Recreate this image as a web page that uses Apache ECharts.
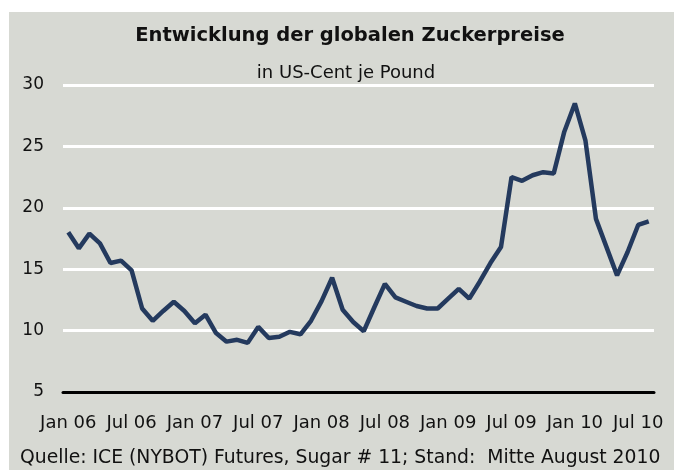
<!DOCTYPE html>
<html>
<head>
<meta charset="utf-8">
<script src="https://cdn.jsdelivr.net/npm/echarts@6/dist/echarts.min.js"></script>
<style>
    html, body {margin: 0; padding: 0; background: #fff;}
    #sugarPrice {width: 674px; height: 470px;}
</style>
</head>
<body>
<div id="sugarPrice"></div>
<script>
// Zuckerpreise Jan 06 - Aug 10, US-Cent je Pound (monatlich)
var monthNames = ['Jan', 'Feb', 'Mar', 'Apr', 'May', 'Jun', 'Jul', 'Aug', 'Sep', 'Oct', 'Nov', 'Dec'];
var years = ['06', '07', '08', '09', '10'];
var lastMonth = 8; // Aug 10
var prices = [
    18.0, 16.7, 17.9, 17.1, 15.5, 15.7, 14.9, 11.8, 10.8, 11.6, 12.35, 11.6,
    10.6, 11.3, 9.8, 9.1, 9.25, 9.0, 10.3, 9.4, 9.5, 9.9, 9.7, 10.8,
    12.4, 14.3, 11.7, 10.7, 9.95, 11.9, 13.8, 12.7, 12.35, 12.0, 11.8, 11.8,
    12.6, 13.4, 12.6, 14.0, 15.5, 16.8, 22.5, 22.2, 22.65, 22.9, 22.8, 26.2,
    28.5, 25.5, 19.1, 16.8, 14.5, 16.4, 18.6, 18.9
];
var yTicks = [5, 30, 5]; // min, max, interval

var months = [];
for (var y = 0; y < years.length; y++) {
    var n = (y === years.length - 1) ? lastMonth : 12;
    for (var m = 0; m < n; m++) {
        months.push(monthNames[m] + ' ' + years[y]);
    }
}

function showSugarPrice() {
    var chart = echarts.init(document.getElementById('sugarPrice'));
    var font = '"DejaVu Sans", sans-serif';
    option = {
        backgroundColor: '#fff',
        animation: false,
        graphic: [{
            type: 'rect',
            z: -10,
            shape: {x: 9, y: 12, width: 665, height: 458},
            style: {fill: '#d7d9d3'}
        }],
        title: [{
            text: 'Entwicklung der globalen Zuckerpreise',
            left: 345,
            textAlign: 'center',
            top: 21,
            textStyle: {color: '#111', fontFamily: font, fontSize: 19.5, fontWeight: 'bold'}
        }, {
            text: 'in US-Cent je Pound',
            left: 341,
            textAlign: 'center',
            top: 59,
            textStyle: {color: '#111', fontFamily: font, fontSize: 18, fontWeight: 'normal'}
        }, {
            text: 'Quelle: ICE (NYBOT) Futures, Sugar # 11; Stand:  Mitte August 2010',
            left: 15,
            top: 444,
            textStyle: {color: '#111', fontFamily: font, fontSize: 18.8, fontWeight: 'normal'}
        }],
        grid: {
            left: 63,
            top: 85,
            width: 591,
            height: 307,
            containLabel: false
        },
        xAxis: {
            type: 'category',
            boundaryGap: true,
            data: months,
            axisLine: {
                show: true,
                lineStyle: {color: '#000', width: 3}
            },
            axisTick: {show: false},
            axisLabel: {
                interval: 5,
                margin: 22,
                color: '#111',
                fontFamily: font,
                fontSize: 18
            }
        },
        yAxis: {
            type: 'value',
            min: yTicks[0],
            max: yTicks[1],
            interval: yTicks[2],
            axisLine: {show: false},
            axisTick: {show: false},
            axisLabel: {
                margin: 19,
                color: '#111',
                fontFamily: font,
                fontSize: 17
            },
            splitLine: {
                lineStyle: {color: '#fff', width: 3}
            }
        },
        series: [{
            name: 'Sugar # 11',
            type: 'line',
            data: prices,
            symbol: 'none',
            lineStyle: {color: '#243a5e', width: 4.5}
        }]
    };
    chart.setOption(option);
}
showSugarPrice();
</script>
</body>
</html>
